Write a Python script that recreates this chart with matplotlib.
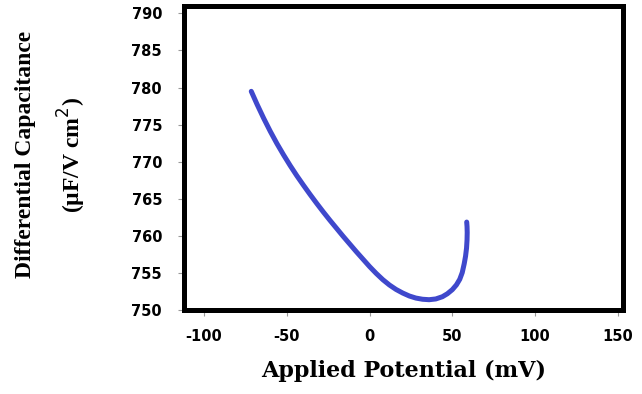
import numpy as np
import matplotlib
matplotlib.use('Agg')
from matplotlib import pyplot as plt

plt.rcParams['axes.unicode_minus'] = False

# differential capacitance vs applied potential
potential = [-71.5, -68, -64, -60, -56, -52, -48, -44, -40, -36, -32, -28, -24, -20, -16, -12,
             -8, -4, 0, 4, 8, 12, 16, 20, 24, 28, 32, 36, 40, 44, 47, 50, 52.5, 54.5, 56,
             57.2, 58, 58.6, 58.9, 59, 58.9, 58.7]
capacitance = [779.5, 777.75, 775.87, 774.11, 772.47, 770.95, 769.51, 768.15, 766.87, 765.63,
               764.43, 763.27, 762.15, 761.07, 759.99, 758.95, 757.91, 756.91, 755.91, 754.99,
               754.15, 753.43, 752.83, 752.35, 751.95, 751.67, 751.51, 751.45, 751.55, 751.85,
               752.25, 752.8, 753.45, 754.2, 755.1, 756.3, 757.3, 758.4, 759.5, 760.5, 761.3,
               761.9]

xticks = [-100, -50, 0, 50, 100, 150]
yticks = [750, 755, 760, 765, 770, 775, 780, 785, 790]

fig = plt.figure(figsize=(6.42, 3.94), dpi=100)
ax = fig.add_axes([0.287, 0.212, 0.683, 0.773])

ax.plot(potential, capacitance, color='#3f48cc', lw=3.6,
        solid_capstyle='round', solid_joinstyle='round')

ax.set_xlim(-112, 153)
ax.set_ylim(750, 791)
ax.set_xticks(xticks)
ax.set_yticks(yticks)
for s in ax.spines.values():
    s.set_linewidth(3.6)
    s.set_color('black')
ax.tick_params(axis='both', direction='out', length=4, width=0.8, color='#999999',
               labelsize=10.5)
ax.tick_params(axis='x', pad=9)
ax.tick_params(axis='y', pad=12)
for lbl in ax.get_xticklabels() + ax.get_yticklabels():
    lbl.set_fontfamily('DejaVu Sans')
    lbl.set_fontweight('bold')

ax.set_xlabel('Applied Potential (mV)', family='DejaVu Serif', fontweight='bold',
              fontsize=16, labelpad=12)
fig.text(0.04, 0.607, 'Differential Capacitance', rotation=90, ha='center', va='center',
         family='Liberation Serif', fontweight='bold', fontsize=17)
fig.text(0.112, 0.607, '(\u00b5F/V cm$^2$)', rotation=90, ha='center', va='center',
         family='Liberation Serif', fontweight='bold', fontsize=17)

fig.savefig('out.png', dpi=100)
